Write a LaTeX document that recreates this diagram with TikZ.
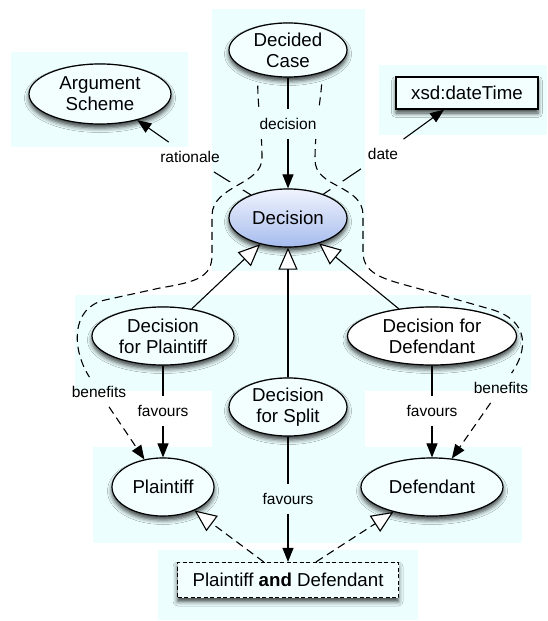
\documentclass[tikz,border=0pt]{standalone}
\usepackage{fontspec}
\setmainfont{Liberation Sans}
\usetikzlibrary{shapes.geometric,arrows.meta,shadows.blur}

\definecolor{panel}{RGB}{236,254,254}
\definecolor{bubble}{RGB}{243,255,255}
\definecolor{deciTop}{RGB}{240,244,253}
\definecolor{deciBot}{RGB}{166,187,238}

\begin{document}
\begin{tikzpicture}[x=1pt,y=-1pt,
  soft/.style={blur shadow={shadow xshift=0pt,shadow yshift=-4pt,
      shadow blur radius=4.5pt,shadow opacity=75}},
  class/.style={ellipse,draw,line width=1.2pt,fill=bubble,inner sep=0pt,
      align=center,font=\fontsize{18.7}{21}\selectfont,soft},
  datatype/.style={rectangle,draw,line width=1.2pt,fill=bubble,inner sep=0pt,
      align=center,font=\fontsize{18.7}{21}\selectfont,soft},
  prop/.style={inner xsep=9pt,inner ysep=9pt,font=\fontsize{15.5}{17}\selectfont},
  link/.style={line width=1.1pt},
  tip/.style={link,-{Triangle[length=14pt,width=11pt]}},
  chain/.style={link,dash pattern=on 8pt off 5pt},
  chaintip/.style={chain,-{Triangle[length=14pt,width=11pt]}},
  isa/.style={link,-{Triangle[length=22pt,width=19pt,fill=white]}},
]
\useasboundingbox (0,0) rectangle (547,621);

% light panels behind the groups of classes
\fill[panel] (11,52) rectangle (188,147);
\fill[panel] (212,9) rectangle (365,271);
\fill[panel] (379,65) rectangle (547,135);
\fill[panel] (75,295) rectangle (531,391);
\fill[panel] (212,295) rectangle (365,447);
\fill[panel] (93,447) rectangle (522,543);
\fill[panel] (158,550) rectangle (418,620);

% classes and datatypes
\node[class,minimum width=142pt,minimum height=60pt] (scheme) at (100,94) {Argument\\Scheme};
\node[class,minimum width=118pt,minimum height=54pt] (case) at (288,50) {Decided\\Case};
\node[datatype,minimum width=142pt,minimum height=32pt] (xsd) at (467,93) {xsd:dateTime};
\node[class,minimum width=118pt,minimum height=58pt,top color=deciTop,bottom color=deciBot] (decision) at (288,218) {Decision};
\node[class,minimum width=142pt,minimum height=58pt] (forP) at (163,336) {Decision\\for Plaintiff};
\node[class,fill=white,minimum width=169pt,minimum height=58pt] (forD) at (432,336) {Decision for\\Defendant};
\node[class,minimum width=118pt,minimum height=58pt] (forS) at (288,407) {Decision\\for Split};
\node[class,minimum width=102pt,minimum height=58pt] (plaintiff) at (163,487) {Plaintiff};
\node[class,minimum width=142pt,minimum height=58pt] (defendant) at (432,487) {Defendant};
\node[datatype,dash pattern=on 4pt off 2.5pt,minimum width=221pt,minimum height=35pt] (both) at (288,580) {Plaintiff \textbf{and} Defendant};

% property labels
\node[prop] (lRationale) at (190,157) {rationale};
\node[prop] (lDate) at (383,154) {date};
\node[prop] (lBenL) at (99,392) {benefits};
\node[prop] (lBenR) at (501,388) {benefits};
\node[prop] (lFavL) at (163,411) {favours};
\node[prop] (lFavR) at (432,411) {favours};
\node[prop] (lFavC) at (288,499) {favours};

% rationale and date
\draw[link] (decision) -- (lRationale);
\draw[tip] (lRationale) -- (scheme);
\draw[link] (decision) -- (lDate);
\draw[tip] (lDate) -- (xsd);

% gaps where the benefits chains pass over them
\begin{scope}
  \clip (222,170) rectangle (258,200);
  \draw[panel,line width=13pt] (262,158) .. controls (262,185) and (213,185) .. (212,215);
\end{scope}
\begin{scope}
  \clip (318,170) rectangle (354,200);
  \draw[panel,line width=13pt] (315,160) .. controls (315,188) and (363,185) .. (363,215);
\end{scope}

% benefits = decision followed by favours
\draw[chain,shorten <=12pt] (case.218) .. controls (258,110) and (262,130) .. (262,158)
    .. controls (262,185) and (213,185) .. (212,215) -- (212,255)
    .. controls (212,278) and (195,282) .. (160,288) -- (105,300)
    .. controls (70,308) and (72,350) .. (lBenL);
\draw[chaintip] (lBenL) -- (plaintiff);
\draw[chain,shorten <=12pt] (case.-33) .. controls (320,105) and (315,130) .. (315,160)
    .. controls (315,188) and (363,185) .. (363,215) -- (363,252)
    .. controls (363,276) and (388,280) .. (420,289) -- (490,309)
    .. controls (530,320) and (528,350) .. (lBenR);
\draw[chaintip] (lBenR) -- (defendant);

% decision
\node[prop,fill=panel] (lDecision) at (288,124) {decision};
\draw[link] (case) -- (lDecision);
\draw[tip] (lDecision) -- (decision);

% favours
\draw[link] (forP) -- (lFavL);
\draw[tip] (lFavL) -- (plaintiff);
\draw[link] (forD) -- (lFavR);
\draw[tip] (lFavR) -- (defendant);
\draw[link] (forS) -- (lFavC);
\draw[tip] (lFavC) -- (both);

% subclass links
\draw[isa] (forP) -- (decision);
\draw[isa] (forS) -- (decision);
\draw[isa] (forD) -- (decision);
\draw[isa,dash pattern=on 8pt off 5pt] (both) -- (plaintiff);
\draw[isa,dash pattern=on 8pt off 5pt] (both) -- (defendant);
\end{tikzpicture}
\end{document}
